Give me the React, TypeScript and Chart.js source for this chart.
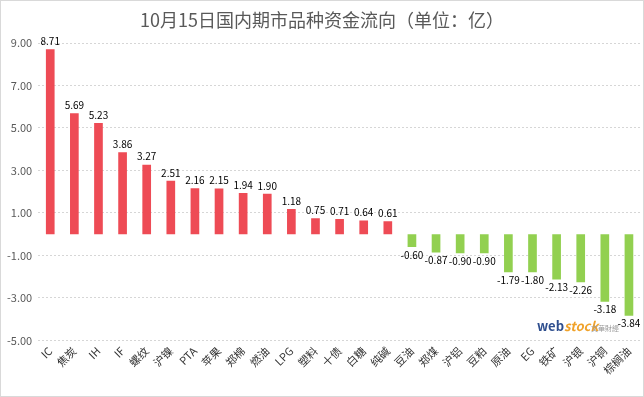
import React, { useEffect, useRef } from "react";
import { Chart, registerables } from "chart.js";

Chart.register(...registerables);

const TITLE = "10月15日国内期市品种资金流向（单位：亿）";
const categories = [
  "IC", "焦炭", "IH", "IF", "螺纹", "沪镍", "PTA", "苹果", "郑棉", "燃油",
  "LPG", "塑料", "十债", "白糖", "纯碱", "豆油", "郑煤", "沪铝", "豆粕", "原油",
  "EG", "铁矿", "沪银", "沪铜", "棕榈油",
];
const values = [
  8.71, 5.69, 5.23, 3.86, 3.27, 2.51, 2.16, 2.15, 1.94, 1.9,
  1.18, 0.75, 0.71, 0.64, 0.61, -0.6, -0.87, -0.9, -0.9, -1.79,
  -1.8, -2.13, -2.26, -3.18, -3.84,
];
const yMin = -5;
const yMax = 9;
const yStep = 2;

const RED = "#EE4B55";
const GREEN = "#92D050";
const FONT = "'Noto Sans CJK SC', 'Noto Sans', sans-serif";

const labelPlugin = {
  id: "valueLabels",
  afterDatasetsDraw(chart: any) {
    const ctx = chart.ctx;
    const meta = chart.getDatasetMeta(0);
    ctx.save();
    ctx.font = `10px ${FONT}`;
    ctx.fillStyle = "#000000";
    ctx.textAlign = "center";
    meta.data.forEach((bar: any, i: number) => {
      const v = values[i];
      const txt = v.toFixed(2);
      if (v >= 0) {
        ctx.textBaseline = "bottom";
        ctx.fillText(txt, bar.x, bar.y - 3);
      } else {
        ctx.textBaseline = "top";
        ctx.fillText(txt, bar.x, bar.y + 3);
      }
    });
    ctx.restore();
  },
};

const decoPlugin = {
  id: "deco",
  afterDraw(chart: any) {
    const ctx = chart.ctx;
    ctx.save();
    // title
    ctx.font = `18px ${FONT}`;
    ctx.fillStyle = "#595959";
    ctx.textAlign = "center";
    ctx.textBaseline = "middle";
    ctx.fillText(TITLE, chart.width / 2, 19);
    // watermark
    ctx.textAlign = "left";
    ctx.textBaseline = "alphabetic";
    ctx.font = `bold 13px ${FONT}`;
    ctx.fillStyle = "#2E4E8E";
    ctx.fillText("web", 536, 330);
    const w = ctx.measureText("web").width;
    ctx.fillStyle = "#F0A22A";
    ctx.font = `bold italic 13px ${FONT}`;
    ctx.fillText("stock", 536 + w, 330);
    ctx.font = `7px ${FONT}`;
    ctx.fillStyle = "#9A9A9A";
    ctx.fillText("文華財經", 590, 330);
    ctx.restore();
  },
};

export default function App() {
  const ref = useRef<HTMLCanvasElement | null>(null);
  useEffect(() => {
    document.body.style.margin = "0";
    const chart = new Chart(ref.current as HTMLCanvasElement, {
      type: "bar",
      data: {
        labels: categories,
        datasets: [
          {
            data: values,
            backgroundColor: values.map((v) => (v >= 0 ? RED : GREEN)),
            barPercentage: 0.36,
            categoryPercentage: 1,
          },
        ],
      },
      options: {
        animation: false,
        responsive: false,
        layout: { padding: { top: 42, right: 2, left: 0, bottom: 15 } },
        plugins: {
          legend: { display: false },
          title: { display: false },
          tooltip: { enabled: false },
        },
        scales: {
          x: {
            grid: { display: false, drawTicks: false },
            border: { display: false },
            ticks: {
              minRotation: 45,
              maxRotation: 45,
              autoSkip: false,
              color: "#333333",
              font: { size: 11, family: FONT },
              padding: 4,
            },
          },
          y: {
            min: yMin,
            max: yMax,
            ticks: {
              stepSize: yStep,
              color: "#595959",
              font: { size: 11, family: FONT },
              callback: (v: any) => Number(v).toFixed(2),
              padding: 6,
            },
            grid: { color: "#D6D6D6", drawTicks: false },
            border: { display: true, color: "rgba(0,0,0,0)", width: 0, dash: [2, 2] },
          },
        },
      },
      plugins: [labelPlugin, decoPlugin],
    });
    return () => chart.destroy();
  }, []);
  return (
    <div
      style={{
        width: 644,
        height: 397,
        boxSizing: "border-box",
        border: "1px solid #D9D9D9",
        background: "#fff",
      }}
    >
      <canvas ref={ref} width={642} height={395} />
    </div>
  );
}
